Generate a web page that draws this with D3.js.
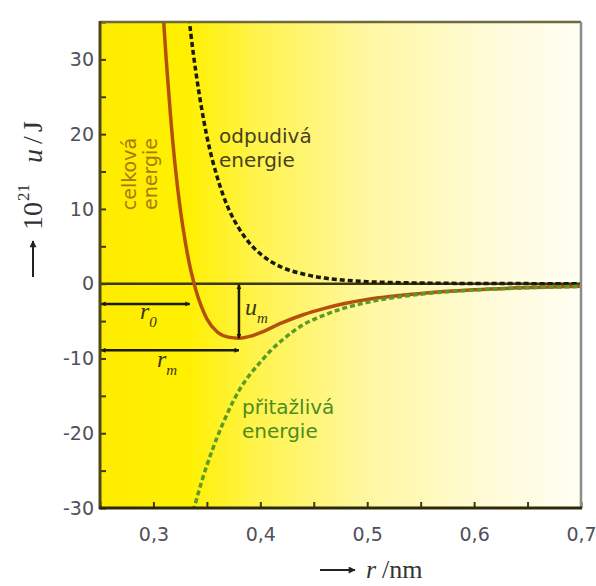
<!DOCTYPE html>
<html><head><meta charset="utf-8">
<script src="https://cdn.jsdelivr.net/npm/d3@7"></script>
<style>html,body{margin:0;padding:0;background:#fff;} svg{display:block;}</style>
</head><body><svg id="chart" width="596" height="586"></svg>
<script>
// Potential energy of two atoms vs. separation r (nm), in 10^-21 J

// total energy (celková energie)
const totalR = [0.306, 0.308, 0.312, 0.316, 0.320, 0.325, 0.330, 0.335, 0.340, 0.345, 0.350, 0.360, 0.370, 0.380, 0.390, 0.400, 0.420, 0.440, 0.460, 0.480, 0.500, 0.550, 0.600, 0.650, 0.700];
const totalU = [45, 39, 29.9, 22.4, 16.2, 10.1, 5.4, 1.75, -1.0, -3.1, -4.7, -6.5, -7.15, -7.3, -7.05, -6.55, -5.25, -4.15, -3.3, -2.62, -2.1, -1.3, -0.82, -0.52, -0.33];

// repulsive energy (odpudivá energie)
const repulsiveR = [0.328, 0.330, 0.335, 0.340, 0.345, 0.350, 0.360, 0.370, 0.380, 0.390, 0.400, 0.420, 0.440, 0.460, 0.480, 0.500, 0.550, 0.600, 0.650, 0.700];
const repulsiveU = [43, 40, 33.4, 28, 23.5, 19.7, 14.1, 10.1, 7.4, 5.4, 4.0, 2.2, 1.3, 0.75, 0.45, 0.27, 0.09, 0.03, 0.01, 0.0];

// attractive energy (přitažlivá energie)
const attractiveR = [0.332, 0.335, 0.340, 0.345, 0.350, 0.360, 0.370, 0.380, 0.390, 0.400, 0.410, 0.420, 0.440, 0.460, 0.480, 0.500, 0.550, 0.600, 0.650, 0.700];
const attractiveU = [-33.5, -31.6, -29.0, -26.5, -24.3, -20.4, -17.1, -14.3, -12.2, -10.5, -8.9, -7.6, -5.5, -4.2, -3.2, -2.5, -1.4, -0.85, -0.55, -0.38];

const xTickValues = [0.3, 0.4, 0.5, 0.6, 0.7];
const xMinorTicks = [0.25, 0.3, 0.35, 0.4, 0.45, 0.5, 0.55, 0.6, 0.65, 0.7];
const yTickValues = [-30, -20, -10, 0, 10, 20, 30];
const yMinorTicks = [-30, -25, -20, -15, -10, -5, 0, 5, 10, 15, 20, 25, 30, 35];

// characteristic distances and well depth
const r0 = 0.334;      // zero crossing of the total energy
const rm = 0.38;       // position of the minimum
const um = -7.3;       // depth of the minimum
const r0Level = -2.7;  // height of the r0 dimension arrow
const rmLevel = -8.9;  // height of the rm dimension arrow

const svg = d3.select("#chart");
const x = d3.scaleLinear().domain([0.25, 0.7]).range([100, 581]);
const y = d3.scaleLinear().domain([-30, 35]).range([508, 22]);
const [x0, x1] = x.range();
const [yb, yt] = y.range();

const defs = svg.append("defs");
const grad = defs.append("linearGradient").attr("id", "bg")
  .attr("x1", "0%").attr("x2", "100%").attr("y1", "0%").attr("y2", "0%");
[[0, "#ffec00"], [0.18, "#fff000"], [0.32, "#fff34a"], [0.55, "#fff7a0"], [0.8, "#fffbd6"], [1, "#fffef4"]]
  .forEach(([o, c]) => grad.append("stop").attr("offset", o).attr("stop-color", c));
defs.append("clipPath").attr("id", "plotClip").append("rect")
  .attr("x", x0).attr("y", yt).attr("width", x1 - x0).attr("height", yb - yt);
defs.append("marker").attr("id", "arrow").attr("viewBox", "0 0 10 10")
  .attr("refX", 9).attr("refY", 5).attr("markerWidth", 5).attr("markerHeight", 5)
  .attr("markerUnits", "userSpaceOnUse").attr("orient", "auto-start-reverse")
  .append("path").attr("d", "M0,0 L10,5 L0,10 z").attr("fill", "#1a1a05");
defs.append("marker").attr("id", "arrowBig").attr("viewBox", "0 0 10 10")
  .attr("refX", 9).attr("refY", 5).attr("markerWidth", 9).attr("markerHeight", 7)
  .attr("markerUnits", "userSpaceOnUse").attr("orient", "auto")
  .append("path").attr("d", "M0,0 L10,5 L0,10 z").attr("fill", "#222");

// plot background
svg.append("rect").attr("x", x0).attr("y", yt).attr("width", x1 - x0).attr("height", yb - yt)
  .attr("fill", "url(#bg)");

// ticks (inward)
const tickColor = "#3e3a14";
const gxMinor = svg.append("g").attr("transform", `translate(0,${yb})`)
  .call(d3.axisBottom(x).tickValues(xMinorTicks).tickSizeInner(-6).tickSizeOuter(0).tickFormat(""));
const gyMinor = svg.append("g").attr("transform", `translate(${x0},0)`)
  .call(d3.axisLeft(y).tickValues(yMinorTicks).tickSizeInner(-6).tickSizeOuter(0).tickFormat(""));
[gxMinor, gyMinor].forEach(g => {
  g.select(".domain").remove();
  g.selectAll("line").attr("stroke", tickColor).attr("stroke-width", 2);
});

const gx = svg.append("g").attr("transform", `translate(0,${yb})`)
  .call(d3.axisBottom(x).tickValues(xTickValues).tickSize(0).tickPadding(20)
    .tickFormat(d => d3.format(".1f")(d).replace(".", ",")));
const gy = svg.append("g").attr("transform", `translate(${x0},0)`)
  .call(d3.axisLeft(y).tickValues(yTickValues).tickSize(0).tickPadding(6)
    .tickFormat(d => String(d)));
[gx, gy].forEach(g => {
  g.select(".domain").remove();
  g.selectAll("text").attr("font-family", "DejaVu Sans").attr("font-size", 19).attr("fill", "#50505c");
});

// zero line
svg.append("line").attr("x1", x0).attr("x2", x1).attr("y1", y(0)).attr("y2", y(0))
  .attr("stroke", "#3a3812").attr("stroke-width", 2.5);

// curves
const plot = svg.append("g").attr("clip-path", "url(#plotClip)");
const line = d3.line().x(d => x(d[0])).y(d => y(d[1])).curve(d3.curveMonotoneX);
plot.append("path").datum(d3.zip(repulsiveR, repulsiveU)).attr("d", line)
  .attr("fill", "none").attr("stroke", "#1c1a08").attr("stroke-width", 3.5).attr("stroke-dasharray", "5,3");
plot.append("path").datum(d3.zip(totalR, totalU)).attr("d", line)
  .attr("fill", "none").attr("stroke", "#b4500e").attr("stroke-width", 3.5);
plot.append("path").datum(d3.zip(attractiveR, attractiveU)).attr("d", line)
  .attr("fill", "none").attr("stroke", "#5a9a26").attr("stroke-width", 3.5).attr("stroke-dasharray", "5,3");

// dimension arrows r0, rm, um
const dim = svg.append("g").attr("stroke", "#1a1a05").attr("stroke-width", 2.5)
  .attr("marker-start", "url(#arrow)").attr("marker-end", "url(#arrow)");
dim.append("line").attr("x1", x0 + 1).attr("x2", x(r0)).attr("y1", y(r0Level)).attr("y2", y(r0Level));
dim.append("line").attr("x1", x0 + 1).attr("x2", x(rm)).attr("y1", y(rmLevel)).attr("y2", y(rmLevel));
dim.append("line").attr("x1", x(rm)).attr("x2", x(rm)).attr("y1", y(0) + 1).attr("y2", y(um));

const serif = "Liberation Serif";
function subLabel(xp, yp, main, sub, color) {
  const t = svg.append("text").attr("x", xp).attr("y", yp).attr("font-family", serif)
    .attr("font-style", "italic").attr("font-size", 24).attr("fill", color);
  t.append("tspan").text(main);
  t.append("tspan").attr("dy", 8).attr("font-size", 15).attr("font-style", "italic").text(sub);
}
subLabel(140, 319, "r", "0", "#3a3614");
subLabel(157, 367, "r", "m", "#3a3614");
subLabel(245, 315, "u", "m", "#3a3614");

// curve names, one text element per line
function twoLines(xp, yp, lines, color, size, gap) {
  lines.forEach((s, i) => svg.append("text").attr("x", xp).attr("y", yp + i * gap)
    .attr("font-family", "DejaVu Sans").attr("font-size", size).attr("fill", color).text(s));
}
twoLines(219, 143, ["odpudivá", "energie"], "#46421f", 20, 23.5);
twoLines(242, 414, ["přitažlivá", "energie"], "#4c8c20", 20, 23.5);

const tot = svg.append("g").attr("transform", "translate(136,174) rotate(-90)");
["celková", "energie"].forEach((s, i) =>
  tot.append("text").attr("x", 0).attr("y", i * 21).attr("text-anchor", "middle")
    .attr("font-family", "DejaVu Sans").attr("font-size", 19).attr("fill", "#a8790c").text(s));

// frame
svg.append("line").attr("x1", x0).attr("x2", x1).attr("y1", yt).attr("y2", yt).attr("stroke", "#6e6a40").attr("stroke-width", 2.5);
svg.append("line").attr("x1", x1).attr("x2", x1).attr("y1", yt).attr("y2", yb).attr("stroke", "#8d8d85").attr("stroke-width", 2.5);
svg.append("line").attr("x1", x0).attr("x2", x0).attr("y1", yt - 1).attr("y2", yb + 1).attr("stroke", "#4e4818").attr("stroke-width", 3);
svg.append("line").attr("x1", x0 - 1).attr("x2", x1 + 1).attr("y1", yb).attr("y2", yb).attr("stroke", "#2e2a08").attr("stroke-width", 3);

// axis titles
const ax = svg.append("g");
ax.append("line").attr("x1", 320).attr("x2", 355).attr("y1", 570).attr("y2", 570)
  .attr("stroke", "#222").attr("stroke-width", 2).attr("marker-end", "url(#arrowBig)");
const xt = ax.append("text").attr("y", 578).attr("font-family", serif).attr("font-size", 26).attr("fill", "#333");
xt.append("tspan").attr("x", 366).attr("font-style", "italic").text("r");
xt.append("tspan").attr("x", 382).text("/nm");

const yl = svg.append("g").attr("transform", "translate(42,196) rotate(-90)");
yl.append("line").attr("x1", -81).attr("x2", -45).attr("y1", -9).attr("y2", -9)
  .attr("stroke", "#222").attr("stroke-width", 2).attr("marker-end", "url(#arrowBig)");
const yt2 = yl.append("text").attr("font-family", serif).attr("font-size", 28).attr("fill", "#333");
yt2.append("tspan").attr("x", -34).attr("y", 0).text("10");
yt2.append("tspan").attr("x", -5).attr("y", -13).attr("font-size", 17).text("21");
yt2.append("tspan").attr("x", 33).attr("y", 0).attr("font-style", "italic").text("u");
yt2.append("tspan").attr("x", 52).attr("y", 0).text("/");
yt2.append("tspan").attr("x", 64).attr("y", 0).text("J");
</script></body></html>
